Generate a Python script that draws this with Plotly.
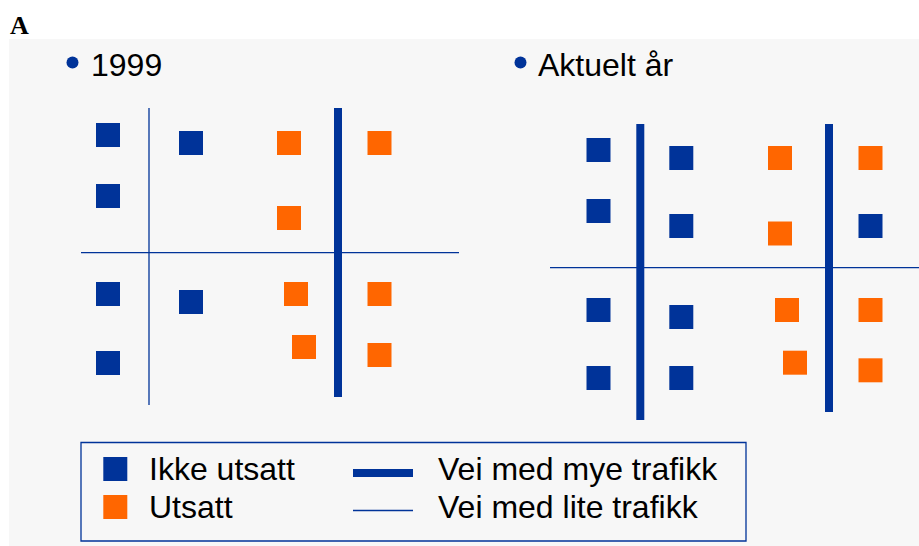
import plotly.graph_objects as go

# ---------------- data (diagram coordinates, y grows downward) ----------------
panel_titles = ["1999", "Aktuelt år"]
title_x = [90, 537]
bullet_x = [72.5, 520.5]

# 1999 panel
p1_safe_x = [108, 191, 108, 108, 191, 108]
p1_safe_y = [135, 143, 196, 294, 302, 363]
p1_exposed_x = [289, 379.5, 289, 296, 379.5, 304, 379.5]
p1_exposed_y = [143, 143, 218, 294, 294, 347, 355]
p1_busy_x = [338]
p1_busy_y0 = [108]
p1_busy_y1 = [397]
p1_quiet_v_x = [149]
p1_quiet_v_y = [108, 405]
p1_quiet_h_x = [81, 459]
p1_quiet_h_y = 252.7

# Current-year panel
p2_safe_x = [598.5, 681.3, 598.5, 681.3, 870.5, 598.5, 681.3, 598.5, 681.3]
p2_safe_y = [150, 158, 211, 226, 226, 310, 317, 378, 378]
p2_exposed_x = [780, 870.5, 780, 787, 870.5, 795, 870.5]
p2_exposed_y = [158, 158, 233.5, 310, 310, 362.7, 370.3]
p2_busy_x = [640.3, 829]
p2_busy_y0 = [124, 124]
p2_busy_y1 = [420, 412]
p2_quiet_h_x = [550, 919]
p2_quiet_h_y = 267.7

legend_labels = ["Ikke utsatt", "Utsatt", "Vei med mye trafikk", "Vei med lite trafikk"]

BLUE = "#003399"
ORANGE = "#FF6600"
BG = "#F7F7F7"
FONT = "Liberation Sans, Arial, sans-serif"

fig = go.Figure()

def squares(x, y, color):
    fig.add_trace(go.Scatter(x=x, y=y, mode="markers",
                             marker=dict(symbol="square", size=24, color=color, line=dict(width=0)),
                             hoverinfo="skip", showlegend=False))

def vline(x, y0, y1, width):
    fig.add_trace(go.Scatter(x=[x, x], y=[y0, y1], mode="lines",
                             line=dict(color=BLUE, width=width), hoverinfo="skip", showlegend=False))

def hline(xs, y, width):
    fig.add_trace(go.Scatter(x=xs, y=[y, y], mode="lines",
                             line=dict(color=BLUE, width=width), hoverinfo="skip", showlegend=False))

# roads
hline(p1_quiet_h_x, p1_quiet_h_y, 1.3)
vline(p1_quiet_v_x[0], p1_quiet_v_y[0], p1_quiet_v_y[1], 1.3)
for x, a, b in zip(p1_busy_x, p1_busy_y0, p1_busy_y1):
    vline(x, a, b, 8)
hline(p2_quiet_h_x, p2_quiet_h_y, 1.3)
for x, a, b in zip(p2_busy_x, p2_busy_y0, p2_busy_y1):
    vline(x, a, b, 8)

# houses
squares(p1_safe_x, p1_safe_y, BLUE)
squares(p1_exposed_x, p1_exposed_y, ORANGE)
squares(p2_safe_x, p2_safe_y, BLUE)
squares(p2_exposed_x, p2_exposed_y, ORANGE)

# bullets
fig.add_trace(go.Scatter(x=bullet_x, y=[62.5, 62.5], mode="markers",
                         marker=dict(symbol="circle", size=12, color=BLUE, line=dict(width=0)),
                         hoverinfo="skip", showlegend=False))

annotations = []
for t, x in zip(panel_titles, title_x):
    annotations.append(dict(x=x, y=65, text=t, xanchor="left", yanchor="middle",
                            showarrow=False, font=dict(family=FONT, size=32, color="black"),
                            borderpad=0))
annotations.append(dict(x=9, y=25, text="<b>A</b>", xanchor="left", yanchor="middle",
                        showarrow=False, font=dict(family="Liberation Serif, Times New Roman, serif",
                                                   size=26, color="black"), borderpad=0))

# legend (manual)
fig.add_shape(type="rect", x0=81, x1=746, y0=442.5, y1=541, line=dict(color=BLUE, width=1.3),
              fillcolor="rgba(0,0,0,0)", layer="above")
squares([115.3], [469], BLUE)
squares([115.3], [507], ORANGE)
fig.add_trace(go.Scatter(x=[353, 413], y=[473, 473], mode="lines", line=dict(color=BLUE, width=8),
                         hoverinfo="skip", showlegend=False))
fig.add_trace(go.Scatter(x=[353, 413], y=[510.5, 510.5], mode="lines", line=dict(color=BLUE, width=1.3),
                         hoverinfo="skip", showlegend=False))
for t, x, y in zip(legend_labels, [148, 148, 437, 437], [469, 507, 469, 507]):
    annotations.append(dict(x=x, y=y, text=t, xanchor="left", yanchor="middle",
                            showarrow=False, font=dict(family=FONT, size=32, color="black"),
                            borderpad=0))

# gray background panel
fig.add_shape(type="rect", x0=9, x1=925, y0=39, y1=560, line=dict(width=0),
              fillcolor=BG, layer="below")

fig.update_layout(
    width=919, height=546,
    margin=dict(l=0, r=0, t=0, b=0),
    paper_bgcolor="white", plot_bgcolor="white",
    xaxis=dict(range=[0, 919], visible=False, fixedrange=True),
    yaxis=dict(range=[546, 0], visible=False, fixedrange=True),
    annotations=annotations,
    showlegend=False,
)

fig.write_html("out.html", config={"displayModeBar": False},
               post_script="document.body.style.margin='0';document.body.style.overflow='hidden';")
